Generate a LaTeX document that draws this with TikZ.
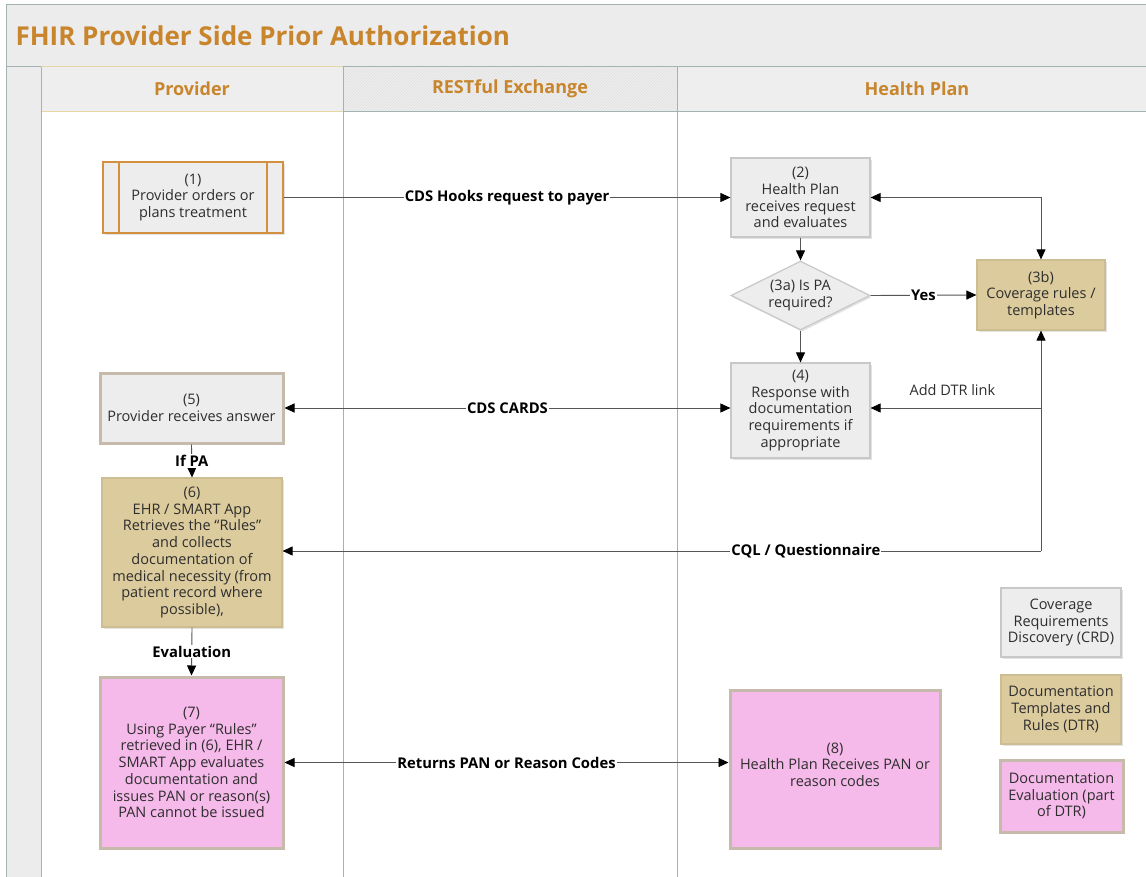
\documentclass[tikz,border=0pt]{standalone}
\usepackage{fontspec}
\setmainfont{Open Sans}
\usetikzlibrary{arrows.meta,shapes.geometric,shadows,patterns,calc}

\definecolor{lane}{HTML}{A3B2B2}
\definecolor{band}{HTML}{ECECEC}
\definecolor{headfill}{HTML}{EEEEEE}
\definecolor{tanline}{HTML}{E6D6A6}
\definecolor{titlecol}{HTML}{C8852C}
\definecolor{crd}{HTML}{EDEDED}
\definecolor{crdline}{HTML}{C8C8C8}
\definecolor{dtr}{HTML}{DCCB9D}
\definecolor{dtrline}{HTML}{CDBD92}
\definecolor{evalfill}{HTML}{F5B9EA}
\definecolor{evalline}{HTML}{C6BAAA}
\definecolor{ordline}{HTML}{D3903E}
\definecolor{ink}{HTML}{2E2E2E}
\definecolor{wire}{HTML}{555555}

\begin{document}
\begin{tikzpicture}[x=1pt,y=-1pt,
  every node/.style={text=ink},
  txt/.style={font=\fontsize{14.5}{16.7}\selectfont, align=center},
  lbl/.style={font=\fontsize{14.8}{17}\selectfont\bfseries, fill=white, inner sep=1pt, text=black},
  plainlbl/.style={font=\fontsize{14.5}{17}\selectfont, text=ink},
  header/.style={font=\fontsize{18}{21}\selectfont\bfseries, text=titlecol},
  shadowed/.style={drop shadow={opacity=0.22,shadow xshift=1.5pt,shadow yshift=-1.8pt}},
  crdbox/.style={txt, draw=crdline, fill=crd, line width=1.2pt, shadowed, inner sep=0pt},
  dtrbox/.style={txt, draw=dtrline, fill=dtr, line width=1.2pt, shadowed, inner sep=0pt},
  evalbox/.style={txt, draw=evalline, fill=evalfill, line width=3pt, shadowed, inner sep=0pt},
  answerbox/.style={txt, draw=evalline, fill=crd, line width=3pt, shadowed, inner sep=0pt},
  orderbox/.style={txt, draw=ordline, fill=crd, line width=1.6pt, shadowed, inner sep=0pt},
  decision/.style={diamond, draw=crdline, fill=crd, line width=1.2pt, shadowed, inner sep=0pt},
  arr/.style={draw=wire, line width=0.9pt, -{Triangle[length=10pt,width=9pt,color=black]}},
  darr/.style={draw=wire, line width=0.9pt, {Triangle[length=10pt,width=9pt,color=black]}-{Triangle[length=10pt,width=9pt,color=black]}}
]
\useasboundingbox (0,0) rectangle (1146,877);
\clip (0,0) rectangle (1146,877);

% ---- pool frame: title band, lane headers, lane dividers
\fill[white] (0,0) rectangle (1146,877);
\draw[lane, fill=band, line width=1pt] (6,5) rectangle (1152,67);
\node[anchor=west, font=\fontsize{26}{30}\selectfont\bfseries, text=titlecol] (title) at (12,36)
  {FHIR Provider Side Prior Authorization};

\fill[band] (6,67) rectangle (41,880);
\fill[headfill] (41,67) rectangle (343,112);
\fill[headfill] (343,67) rectangle (677,112);
\fill[pattern=north east lines, pattern color=black!12] (343,67) rectangle (677,112);
\fill[headfill] (677,67) rectangle (1152,112);

\draw[tanline, line width=1pt] (41,67) -- (343,67) (41,112) -- (343,112);
\draw[lane, line width=1pt] (343,67) -- (1152,67) (343,112) -- (1152,112);
\draw[lane, line width=1pt] (6,5) -- (6,880);
\draw[lane, line width=1pt] (41,67) -- (41,880);
\draw[lane, line width=1pt] (343,67) -- (343,880);
\draw[lane, line width=1pt] (677,67) -- (677,880);

\node[header] (hprov) at (192,89) {Provider};
\node[header] (hrest) at (510,89) {RESTful Exchange};
\node[header] (hplan) at (917,89) {Health Plan};

% ---- process steps
\node[orderbox, minimum width=180pt, minimum height=71pt] (s1) at (193,197.5)
  {(1)\\Provider orders or\\plans treatment};
\draw[ordline, line width=1.6pt]
  ($(s1.north west)+(17,0)$) -- ($(s1.south west)+(17,0)$)
  ($(s1.north east)+(-17,0)$) -- ($(s1.south east)+(-17,0)$);

\node[crdbox, minimum width=139pt, minimum height=79pt] (s2) at (800.5,197.5)
  {(2)\\Health Plan\\receives request\\and evaluates};

\node[decision, minimum width=139pt, minimum height=69pt] (s3a) at (800.5,295.5) {};
\node[txt] (s3atext) at (s3a) {(3a) Is PA\\required?};

\node[dtrbox, minimum width=128pt, minimum height=70pt] (s3b) at (1041,295)
  {(3b)\\Coverage rules /\\templates};

\node[crdbox, minimum width=139pt, minimum height=95pt] (s4) at (800.5,410.5)
  {(4)\\Response with\\documentation\\requirements if\\appropriate};

\node[answerbox, minimum width=183pt, minimum height=70pt] (s5) at (191.5,408)
  {(5)\\Provider receives answer};

\node[dtrbox, minimum width=180pt, minimum height=149pt] (s6) at (192,552.5)
  {(6)\\EHR / SMART App\\Retrieves the “Rules”\\and collects\\documentation of\\medical necessity (from\\patient record where\\possible),};

\node[evalbox, minimum width=183pt, minimum height=171pt] (s7) at (191.5,762.5)
  {(7)\\Using Payer “Rules”\\retrieved in (6), EHR /\\SMART App evaluates\\documentation and\\issues PAN or reason(s)\\PAN cannot be issued};

\node[evalbox, minimum width=210pt, minimum height=158pt] (s8) at (835,769)
  {(8)\\Health Plan Receives PAN or\\reason codes\\[-8pt]};

% ---- legend
\node[crdbox, minimum width=120pt, minimum height=69pt] (kcrd) at (1061,622.5)
  {Coverage\\Requirements\\Discovery (CRD)};
\node[dtrbox, minimum width=120pt, minimum height=69pt] (kdtr) at (1061,709.5)
  {Documentation\\Templates and\\Rules (DTR)};
\node[evalbox, minimum width=123pt, minimum height=72pt] (keval) at (1061.5,796)
  {Documentation\\Evaluation (part\\of DTR)};

% ---- connectors
\coordinate (j) at (1041,551);
\coordinate (k) at (1041,408);

\draw[arr] (s1.east) -- (s2.west) node[lbl, midway] {CDS Hooks request to payer};
\draw[arr] (s2.south) -- (s3a.north);
\draw[arr] (s3a.east) -- (s3b.west) node[lbl, midway] {Yes};
\draw[darr] (s2.east) -| (s3b.north);
\draw[arr] (s3a.south) -- (s4.north);
\draw[arr] (j) -- (s3b.south);
\draw[arr] (k) -- (s4.east |- k) node[plainlbl, pos=0.52, above=9pt] {Add DTR link};
\draw[darr] (s5.east) -- (s5.east -| s4.west) node[lbl, midway] {CDS CARDS};
\draw[arr] (j) -- (s6.east |- j) node[lbl, pos=0.31] {CQL / Questionnaire};
\draw[arr] (s5.south) -- (s6.north) node[lbl, midway] {If PA};
\draw[arr] (s6.south) -- (s7.north) node[lbl, midway] {Evaluation};
\draw[darr] (s7.east) -- (s7.east -| s8.west) node[lbl, midway] {Returns PAN or Reason Codes};
\end{tikzpicture}
\end{document}
